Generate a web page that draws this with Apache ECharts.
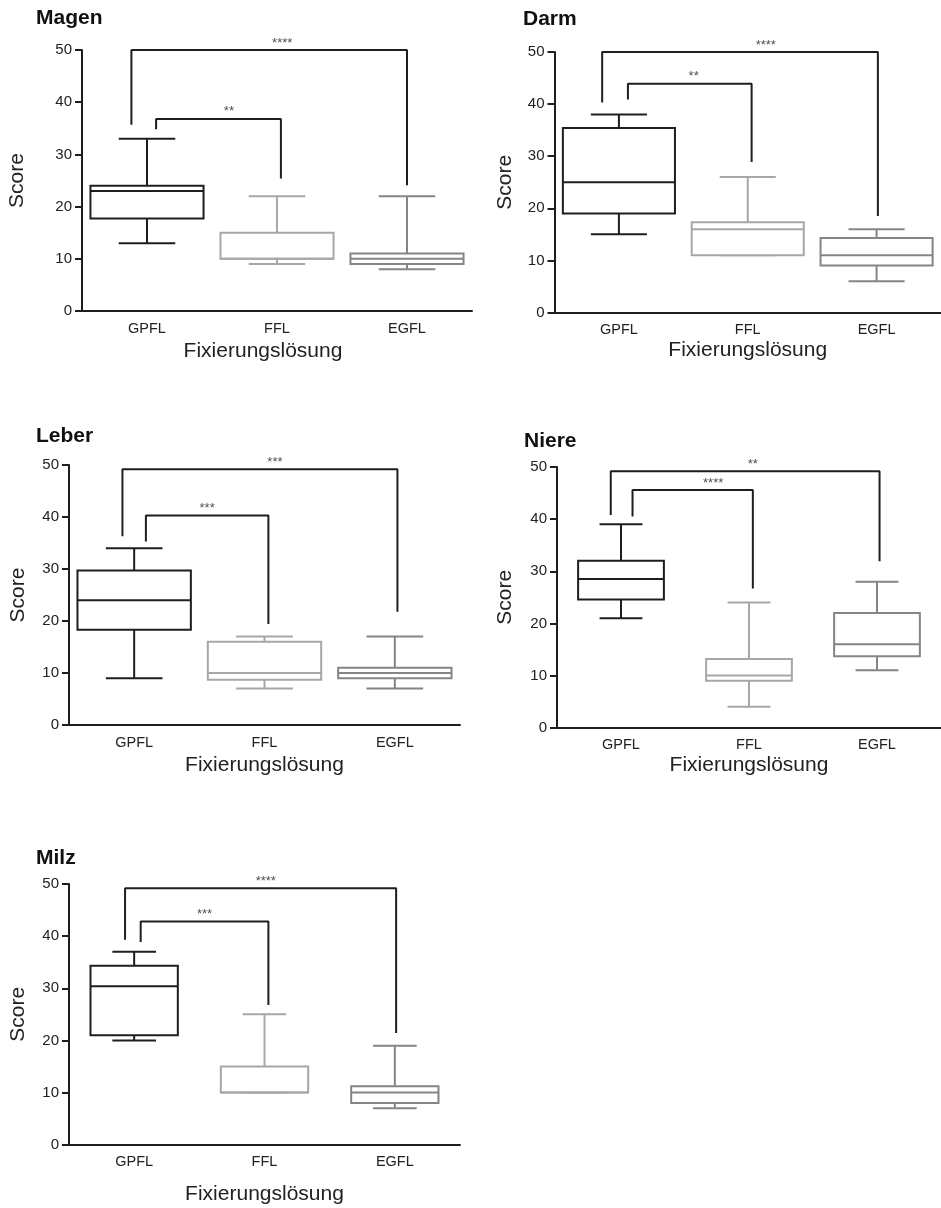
<!DOCTYPE html>
<html>
<head>
<meta charset="utf-8">
<script src="https://cdn.jsdelivr.net/npm/echarts@6/dist/echarts.min.js"></script>
<style>
html,body{margin:0;padding:0;background:#fff;}
#chart{width:941px;height:1208px;}
</style>
</head>
<body>
<div id="chart"></div>
<script>
// ---------- DATA ----------
const categories = ['GPFL', 'FFL', 'EGFL'];
const panelTitles = ['Magen', 'Darm', 'Leber', 'Niere', 'Milz'];
const yTicks = [0, 10, 20, 30, 40, 50];

// each row: [min, Q1, median, Q3, max] for GPFL, FFL, EGFL
const magenBox = [[13, 17.7, 23, 24, 33], [9, 10, 10, 15, 22], [8, 9, 10, 11, 22]];
const darmBox  = [[15, 19, 25, 35.4, 38], [11, 11, 16, 17.3, 26], [6, 9, 11, 14.3, 16]];
const leberBox = [[9, 18.3, 24, 29.7, 34], [7, 8.7, 10, 16, 17], [7, 9, 10, 11, 17]];
const niereBox = [[21, 24.6, 28.5, 32, 39], [4, 9, 10, 13.2, 24], [11, 13.7, 16, 22, 28]];
const milzBox  = [[20, 21, 30.4, 34.3, 37], [10, 10, 10, 15, 25], [7, 8, 10, 11.2, 19]];

// significance brackets: [xLeft, xRight, yBar, yLeftEnd, yRightEnd, labelX, label]
const magenSig = [[-0.12, 2.0, 50, 35.7, 24.1, 1.04, '****'], [0.07, 1.03, 36.8, 34.8, 25.4, 0.63, '**']];
const darmSig  = [[-0.13, 2.01, 50, 40.3, 18.5, 1.14, '****'], [0.07, 1.03, 43.9, 40.9, 28.9, 0.58, '**']];
const leberSig = [[-0.09, 2.02, 49.2, 36.3, 21.8, 1.08, '***'], [0.09, 1.03, 40.3, 35.3, 19.4, 0.56, '***']];
const niereSig = [[-0.08, 2.02, 49.2, 40.8, 31.9, 1.03, '**'], [0.09, 1.03, 45.6, 40.5, 26.7, 0.72, '****']];
const milzSig  = [[-0.07, 2.01, 49.2, 39.3, 21.4, 1.01, '****'], [0.05, 1.03, 42.8, 38.9, 26.8, 0.54, '***']];

const boxes = [magenBox, darmBox, leberBox, niereBox, milzBox];
const sigs = [magenSig, darmSig, leberSig, niereSig, milzSig];

// ---------- LAYOUT / STYLE ----------
const FONT = '"Liberation Sans", Arial, sans-serif';
const INK = '#1e1e1e';
const boxColors = ['#1e1e1e', '#a9a6a4', '#878482'];
const layout = [
  {left: 82,    top: 50,  width: 390, height: 261,   boxRatio: 0.87, yGap: 54, xGap: 30,   xPad: [0, 28, 0, 0], tL: 36,  tT: 8},
  {left: 554.5, top: 52,  width: 390, height: 260.5, boxRatio: 0.87, yGap: 39, xGap: 27,   xPad: 0, tL: 523, tT: 9},
  {left: 69,    top: 465, width: 391, height: 260,   boxRatio: 0.87, yGap: 40, xGap: 30,   xPad: 0, tL: 36,  tT: 426},
  {left: 557,   top: 467, width: 391, height: 260.7, boxRatio: 0.67, yGap: 41, xGap: 27.5, xPad: 0, tL: 524, tT: 431},
  {left: 69,    top: 884, width: 391, height: 260.7, boxRatio: 0.67, yGap: 40, xGap: 39.5, xPad: 0, tL: 36,  tT: 848}
];

function makeRenderer(ratio) {
  return function (params, api) {
    const idx = api.value(0);
    const pMin = api.coord([idx, api.value(1)]);
    const pQ1 = api.coord([idx, api.value(2)]);
    const pMed = api.coord([idx, api.value(3)]);
    const pQ3 = api.coord([idx, api.value(4)]);
    const pMax = api.coord([idx, api.value(5)]);
    const band = api.size([1, 0])[0];
    const w = band * ratio;
    const cx = pMed[0];
    const c = boxColors[idx];
    const st = {stroke: c, lineWidth: 2, fill: null};
    const children = [
      {type: 'line', shape: {x1: cx, y1: pQ3[1], x2: cx, y2: pMax[1]}, style: st},
      {type: 'line', shape: {x1: cx - w / 4, y1: pMax[1], x2: cx + w / 4, y2: pMax[1]}, style: st},
      {type: 'line', shape: {x1: cx, y1: pQ1[1], x2: cx, y2: pMin[1]}, style: st},
      {type: 'line', shape: {x1: cx - w / 4, y1: pMin[1], x2: cx + w / 4, y2: pMin[1]}, style: st},
      {type: 'rect', shape: {x: cx - w / 2, y: pQ3[1], width: w, height: pQ1[1] - pQ3[1]}, style: {stroke: c, lineWidth: 2, fill: '#fff'}},
      {type: 'line', shape: {x1: cx - w / 2, y1: pMed[1], x2: cx + w / 2, y2: pMed[1]}, style: st}
    ];
    return {type: 'group', children: children};
  };
}

const option = {
  backgroundColor: '#fff',
  animation: false,
  title: [], grid: [], xAxis: [], yAxis: [], series: []
};

layout.forEach((L, i) => {
  option.title.push({
    text: panelTitles[i], left: L.tL, top: L.tT, padding: 0,
    textStyle: {fontFamily: FONT, fontSize: 21, fontWeight: 'bold', color: '#111'}
  });
  option.grid.push({left: L.left, top: L.top, width: L.width, height: L.height, containLabel: false});
  // category axis (visible)
  option.xAxis.push({
    type: 'category', gridIndex: i, data: categories,
    name: 'Fixierungslösung', nameLocation: 'middle', nameGap: L.xGap,
    nameTextStyle: {fontFamily: FONT, fontSize: 21, color: '#222', padding: L.xPad},
    axisLine: {onZero: false, lineStyle: {color: INK, width: 2}},
    axisTick: {alignWithLabel: true, length: 6, lineStyle: {color: INK, width: 2}},
    axisLabel: {fontFamily: FONT, fontSize: 14.5, color: '#222', margin: 10},
    splitLine: {show: false}
  });
  // hidden value axis for brackets
  option.xAxis.push({
    type: 'value', gridIndex: i, min: -0.5, max: 2.5, show: false,
    axisLine: {onZero: false}
  });
  option.yAxis.push({
    type: 'value', gridIndex: i, min: yTicks[0], max: yTicks[yTicks.length - 1], interval: 10,
    position: 'left',
    name: 'Score', nameLocation: 'middle', nameGap: L.yGap, nameRotate: 90,
    nameTextStyle: {fontFamily: FONT, fontSize: 21, color: '#222'},
    axisLine: {show: true, onZero: false, lineStyle: {color: INK, width: 2}},
    axisTick: {show: true, length: 7, lineStyle: {color: INK, width: 2}},
    axisLabel: {fontFamily: FONT, fontSize: 15, color: '#222', margin: 10},
    splitLine: {show: false}
  });
  const catAx = i * 2, valAx = i * 2 + 1;
  option.series.push({
    type: 'custom', xAxisIndex: catAx, yAxisIndex: i,
    renderItem: makeRenderer(L.boxRatio),
    encode: {x: 0, y: [1, 2, 3, 4, 5]},
    clip: false,
    data: boxes[i].map((b, k) => [k].concat(b))
  });
  sigs[i].forEach(s => {
    option.series.push({
      type: 'line', xAxisIndex: valAx, yAxisIndex: i, clip: false,
      symbol: 'none', silent: true,
      lineStyle: {color: INK, width: 2},
      data: [[s[0], s[3]], [s[0], s[2]], [s[1], s[2]], [s[1], s[4]]]
    });
    option.series.push({
      type: 'scatter', xAxisIndex: valAx, yAxisIndex: i, symbolSize: 0, silent: true,
      data: [[s[5], s[2]]],
      label: {show: true, formatter: s[6], position: 'inside', offset: [0, -7],
              fontFamily: FONT, fontSize: 13, color: INK}
    });
  });
});

const chart = echarts.init(document.getElementById('chart'), null, {renderer: 'canvas'});
chart.setOption(option);
</script>
</body>
</html>
